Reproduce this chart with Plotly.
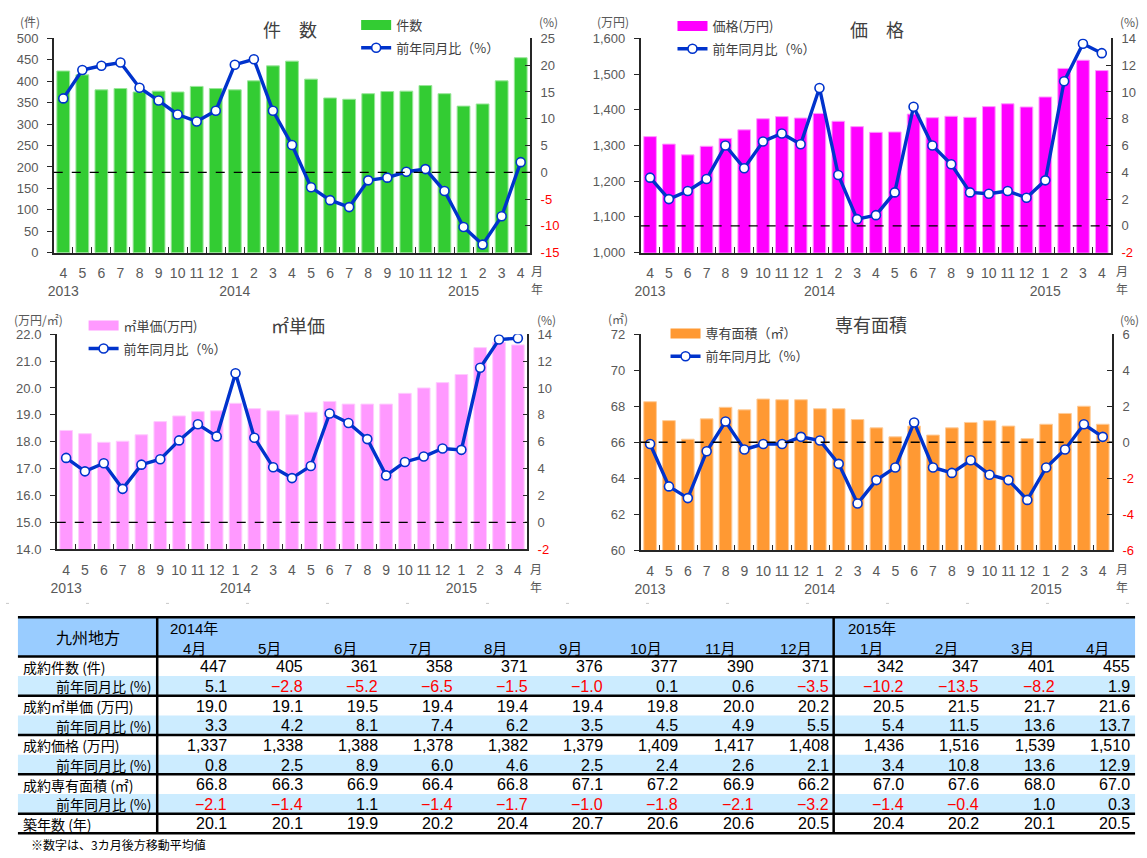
import plotly.graph_objects as go

W, H = 1147, 858

# ---------------- data ----------------
month_ticks = ["4", "5", "6", "7", "8", "9", "10", "11", "12", "1", "2", "3",
               "4", "5", "6", "7", "8", "9", "10", "11", "12", "1", "2", "3", "4"]
year_ticks = ["2013", "", "", "", "", "", "", "", "", "2014", "", "", "",
              "", "", "", "", "", "", "", "", "2015", "", "", ""]

# 2013/4 - 2014/3
count_early = [424, 415, 380, 383, 375, 377, 375, 388, 383, 380, 401, 436]
count_yoy_early = [13.8, 19.1, 19.9, 20.5, 15.8, 13.4, 10.8, 9.5, 11.5, 20.1, 21.1, 11.5]
price_early = [1325, 1304, 1274, 1298, 1320, 1344, 1375, 1381, 1377, 1390, 1368, 1353]
price_yoy_early = [3.6, 2.0, 2.6, 3.5, 6.0, 4.3, 6.3, 6.9, 6.1, 10.3, 3.8, 0.5]
unit_early = [18.42, 18.30, 17.98, 18.02, 18.26, 18.75, 18.96, 19.12, 19.15, 19.43, 19.23, 19.15]
unit_yoy_early = [4.8, 3.8, 4.4, 2.5, 4.3, 4.7, 6.1, 7.3, 6.4, 11.1, 6.3, 4.1]
area_early = [68.25, 67.2, 66.17, 67.3, 67.94, 67.8, 68.4, 68.36, 68.36, 67.86, 67.86, 67.26]
area_yoy_early = [-0.1, -2.45, -3.1, -0.5, 1.15, -0.4, -0.1, -0.1, 0.3, 0.1, -1.2, -3.4]

# table: 2014/4 - 2015/4
tbl_months = ["4月", "5月", "6月", "7月", "8月", "9月", "10月", "11月", "12月",
              "1月", "2月", "3月", "4月"]
tbl_years = ["2014年", "2015年"]
tbl_count = [447, 405, 361, 358, 371, 376, 377, 390, 371, 342, 347, 401, 455]
tbl_count_yoy = [5.1, -2.8, -5.2, -6.5, -1.5, -1.0, 0.1, 0.6, -3.5, -10.2, -13.5, -8.2, 1.9]
tbl_unit = [19.0, 19.1, 19.5, 19.4, 19.4, 19.4, 19.8, 20.0, 20.2, 20.5, 21.5, 21.7, 21.6]
tbl_unit_yoy = [3.3, 4.2, 8.1, 7.4, 6.2, 3.5, 4.5, 4.9, 5.5, 5.4, 11.5, 13.6, 13.7]
tbl_price = [1337, 1338, 1388, 1378, 1382, 1379, 1409, 1417, 1408, 1436, 1516, 1539, 1510]
tbl_price_yoy = [0.8, 2.5, 8.9, 6.0, 4.6, 2.5, 2.4, 2.6, 2.1, 3.4, 10.8, 13.6, 12.9]
tbl_area = [66.8, 66.3, 66.9, 66.4, 66.8, 67.1, 67.2, 66.9, 66.2, 67.0, 67.6, 68.0, 67.0]
tbl_area_yoy = [-2.1, -1.4, 1.1, -1.4, -1.7, -1.0, -1.8, -2.1, -3.2, -1.4, -0.4, 1.0, 0.3]
tbl_age = [20.1, 20.1, 19.9, 20.2, 20.4, 20.7, 20.6, 20.6, 20.5, 20.4, 20.2, 20.1, 20.5]
tbl_row_labels = ["成約件数 (件)", "前年同月比 (%)", "成約㎡単価 (万円)", "前年同月比 (%)",
                  "成約価格 (万円)", "前年同月比 (%)", "成約専有面積 (㎡)", "前年同月比 (%)",
                  "築年数 (年)"]
tbl_region = "九州地方"
footnote = "※数字は、3カ月後方移動平均値"

count = count_early + tbl_count
count_yoy = count_yoy_early + tbl_count_yoy
price = price_early + tbl_price
price_yoy = price_yoy_early + tbl_price_yoy
unit = unit_early + tbl_unit
unit_yoy = unit_yoy_early + tbl_unit_yoy
area = area_early + tbl_area
area_yoy = area_yoy_early + tbl_area_yoy

# ---------------- helpers ----------------
def px(x):
    return x / W

def py(y):
    return 1 - y / H

FONT_NUM = "Liberation Sans, Arial, Noto Sans CJK JP"
FONT_JP = "Noto Sans CJK JP, Liberation Sans"
GRAY = "#595959"
DARK = "#404040"
LINE_BLUE = "#0033CC"
AXIS_COL = "#262626"

xs = list(range(len(month_ticks)))
ticktext = [m if y == "" else f"{m}<br>{y}" for m, y in zip(month_ticks, year_ticks)]

charts = [
    dict(bars=count, yoy=count_yoy, color="#33CC33", edge="#99E699", name="件数",
         dx=(48, 527), dy=(32, 250), lr=[0, 500], ld=50, lfmt="d", rr=[-15, 25], rd=5,
         title="件　数", tpos=(285, 22), lunit="(件)", lupos=(24, 15), rupos=(545, 15),
         leg=(352, 3), ympos=(534, 268)),
    dict(bars=price, yoy=price_yoy, color="#FF00FF", edge="#FF99FF", name="価格(万円)",
         dx=(638, 1111), dy=(32, 250), lr=[1000, 1600], ld=100, lfmt=",d", rr=[-2, 14], rd=2,
         title="価　格", tpos=(876, 22), lunit="(万円)", lupos=(610, 15), rupos=(1129, 15),
         leg=(670, 4), ympos=(1122, 268)),
    dict(bars=unit, yoy=unit_yoy, color="#FF99FF", edge="#FFCCFF", name="㎡単価(万円)",
         dx=(51, 524), dy=(333, 552), lr=[14, 22], ld=1, lfmt=".1f", rr=[-2, 14], rd=2,
         title="㎡単価", tpos=(294, 324), lunit="(万円/㎡)", lupos=(33, 318), rupos=(543, 318),
         leg=(78, 309), ympos=(533, 571)),
    dict(bars=area, yoy=area_yoy, color="#FF9933", edge="#FFCC99", name="専有面積（㎡）",
         dx=(638, 1112), dy=(333, 553), lr=[60, 72], ld=2, lfmt="d", rr=[-6, 6], rd=2,
         title="専有面積", tpos=(870, 323), lunit="(㎡)", lupos=(615, 317), rupos=(1129, 318),
         leg=(663, 317), ympos=(1122, 571)),
]

fig = go.Figure()
layout = dict(width=W, height=H, margin=dict(l=0, r=0, t=0, b=0),
              paper_bgcolor="white", plot_bgcolor="rgba(0,0,0,0)",
              bargap=0.33, showlegend=True, font=dict(family=FONT_NUM))
shapes, annotations = [], []

def text(t, x, y, anchor="left", size=15, color="#000000", family=FONT_NUM):
    annotations.append(dict(text=t, x=px(x), y=py(y), xref="paper", yref="paper",
                            xanchor=anchor, yanchor="middle", showarrow=False,
                            font=dict(size=size, color=color, family=family)))

for i, c in enumerate(charts):
    xn = "x" if i == 0 else f"x{i+1}"
    yl = f"y{2*i+1}" if i > 0 else "y"
    yr = f"y{2*i+2}"
    xkey = "xaxis" if i == 0 else f"xaxis{i+1}"
    ylkey = "yaxis" if i == 0 else f"yaxis{2*i+1}"
    yrkey = f"yaxis{2*i+2}"
    legname = "legend" if i == 0 else f"legend{i+1}"

    fig.add_trace(go.Bar(x=xs, y=c["bars"], xaxis=xn, yaxis=yl, marker=dict(
        color=c["color"], line=dict(color=c["edge"], width=1)), showlegend=False,
        name=c["name"]))
    fig.add_trace(go.Scatter(x=[None], y=[None], xaxis=xn, yaxis=yl, mode="lines",
                             line=dict(color=c["color"], width=10), name=c["name"],
                             legend=legname, legendgroup=f"b{i}"))
    fig.add_trace(go.Scatter(x=xs, y=c["yoy"], xaxis=xn, yaxis=yr, mode="lines+markers",
                             line=dict(color=LINE_BLUE, width=3.4),
                             marker=dict(size=9, color="white",
                                         line=dict(color=LINE_BLUE, width=1.6)),
                             name="前年同月比（%）", legend=legname, legendgroup=f"l{i}"))

    dom_x = [px(c["dx"][0]), px(c["dx"][1])]
    dom_y = [py(c["dy"][1]), py(c["dy"][0])]
    layout[xkey] = dict(domain=dom_x, anchor=yl, range=[-0.5, len(xs) - 0.5],
                        tickmode="array", tickvals=xs, ticktext=ticktext, ticks="",
                        tickangle=0,
                        showline=True, linecolor=AXIS_COL, linewidth=1.5,
                        showgrid=False, zeroline=False, ticklabelstandoff=7,
                        tickfont=dict(size=14, color=GRAY, family=FONT_NUM),
                        minor=dict(tickmode="array",
                                   tickvals=[k + 0.5 for k in range(-1, len(xs))],
                                   ticks="inside", ticklen=6, tickwidth=1,
                                   tickcolor=AXIS_COL, showgrid=False))
    lvals = []
    v = c["lr"][0]
    while v <= c["lr"][1] + 1e-9:
        lvals.append(v)
        v += c["ld"]
    layout[ylkey] = dict(domain=dom_y, anchor=xn, range=c["lr"], tickmode="array",
                         tickvals=lvals, tickformat=c["lfmt"], ticks="outside", ticklen=5,
                         tickcolor=AXIS_COL, showline=True, linecolor=AXIS_COL,
                         linewidth=1.5, showgrid=False, zeroline=False,
                         ticklabelstandoff=6,
                         tickfont=dict(size=13, color=GRAY, family=FONT_NUM))
    rvals = list(range(c["rr"][0], c["rr"][1] + 1, c["rd"]))
    rtext = [str(v) if v >= 0 else f'<span style="color:#FF0000">{v}</span>' for v in rvals]
    layout[yrkey] = dict(overlaying=yl, side="right", anchor=xn, range=c["rr"],
                         tickmode="array", tickvals=rvals, ticktext=rtext,
                         ticks="inside", ticklen=5, tickcolor=AXIS_COL, showline=True,
                         linecolor=AXIS_COL, linewidth=1.5, showgrid=False, zeroline=False,
                         ticklabelstandoff=6,
                         tickfont=dict(size=13, color=GRAY, family=FONT_NUM))
    layout[legname] = dict(x=px(c["leg"][0]), y=py(c["leg"][1]), xanchor="left",
                           yanchor="top", bgcolor="rgba(0,0,0,0)", tracegroupgap=3,
                           font=dict(size=13, color=DARK, family=FONT_JP), itemwidth=30)
    shapes.append(dict(type="line", xref=f"{xn} domain", yref=yr, x0=0, x1=1, y0=0, y1=0,
                       line=dict(color="#000000", width=1.3, dash="dash"), layer="above"))
    text(c["title"], c["tpos"][0], c["tpos"][1], anchor="center", size=18, color=DARK,
         family=FONT_JP)
    text(c["lunit"], c["lupos"][0], c["lupos"][1], anchor="center", size=12, color=GRAY,
         family=FONT_JP)
    text("(%)", c["rupos"][0], c["rupos"][1], anchor="center", size=12, color=GRAY,
         family=FONT_JP)
    text("月", c["ympos"][0], c["ympos"][1], anchor="center", size=12, color=GRAY,
         family=FONT_JP)
    text("年", c["ympos"][0], c["ympos"][1] + 19, anchor="center", size=12, color=GRAY,
         family=FONT_JP)

# ---------------- table ----------------
TX0, TX1, C0, CMID = 12, 1135, 152, 832
TY0, HY, RH = 621, 661, 20
n14, n15 = 9, 4
col_edges = [C0 + k * (CMID - C0) / n14 for k in range(n14 + 1)] + \
            [CMID + k * (TX1 - CMID) / n15 for k in range(1, n15 + 1)]
n_rows = len(tbl_row_labels)
TY1 = HY + RH * n_rows

def rect(x0, y0, x1, y1, color):
    shapes.append(dict(type="rect", xref="paper", yref="paper", x0=px(x0), x1=px(x1),
                       y0=py(y1), y1=py(y0), fillcolor=color, line=dict(width=0),
                       layer="below"))

def hline(y, x0=TX0, x1=TX1, w=2.5):
    shapes.append(dict(type="line", xref="paper", yref="paper", x0=px(x0), x1=px(x1),
                       y0=py(y), y1=py(y), line=dict(color="#000000", width=w)))

def vline(x, y0=TY0, y1=TY1, w=2.5):
    shapes.append(dict(type="line", xref="paper", yref="paper", x0=px(x), x1=px(x),
                       y0=py(y0), y1=py(y1), line=dict(color="#000000", width=w)))

# faint page-break dashes
shapes.append(dict(type="line", xref="paper", yref="paper", x0=px(0), x1=px(W),
                   y0=py(607), y1=py(607),
                   line=dict(color="#C8C8C8", width=1, dash="3px,77px")))

rect(TX0, TY0, TX1, HY, "#99CCFF")
for r in range(n_rows):
    if r % 2 == 1:
        rect(TX0, HY + r * RH, TX1, HY + (r + 1) * RH, "#CCECFF")
hline(TY0)
hline(HY)
for r in range(n_rows):
    if r % 2 == 1 or r == n_rows - 1:
        hline(HY + (r + 1) * RH)
vline(C0)
vline(CMID)

text(tbl_region, (TX0 + C0) / 2, 641, anchor="center", size=16, family=FONT_JP)
text(tbl_years[0], C0 + 11, 633, size=15)
text(tbl_years[1], CMID + 12, 633, size=15)
for k, m in enumerate(tbl_months):
    text(m, (col_edges[k] + col_edges[k + 1]) / 2, 653, anchor="center", size=15)

def fmt_val(v, kind):
    if kind == "int":
        return f"{v:,d}", "#000000"
    if v < 0:
        return f"\u2212{abs(v):.1f}", "#FF0000"
    return f"{v:.1f}", "#000000"

table_rows = [(tbl_count, "int"), (tbl_count_yoy, "f"), (tbl_unit, "f"), (tbl_unit_yoy, "f"),
              (tbl_price, "int"), (tbl_price_yoy, "f"), (tbl_area, "f"), (tbl_area_yoy, "f"),
              (tbl_age, "f")]
for r, (vals, kind) in enumerate(table_rows):
    yc = HY + r * RH + RH / 2 + 0.5
    if r % 2 == 0:
        text(tbl_row_labels[r], TX0 + 3, yc, size=14, family=FONT_JP)
    else:
        text(tbl_row_labels[r], C0 - 3, yc, anchor="right", size=14, family=FONT_JP)
    for k, v in enumerate(vals):
        s, col = fmt_val(v, kind)
        text(s, col_edges[k + 1] - 3, yc, anchor="right", size=16, color=col)

text(footnote, 23, 852, size=12, family=FONT_JP)

layout["shapes"] = shapes
layout["annotations"] = annotations
fig.update_layout(**layout)

fig.write_html("out.html", include_plotlyjs=True,
               config={"displayModeBar": False},
               post_script="document.body.style.margin='0px';")
